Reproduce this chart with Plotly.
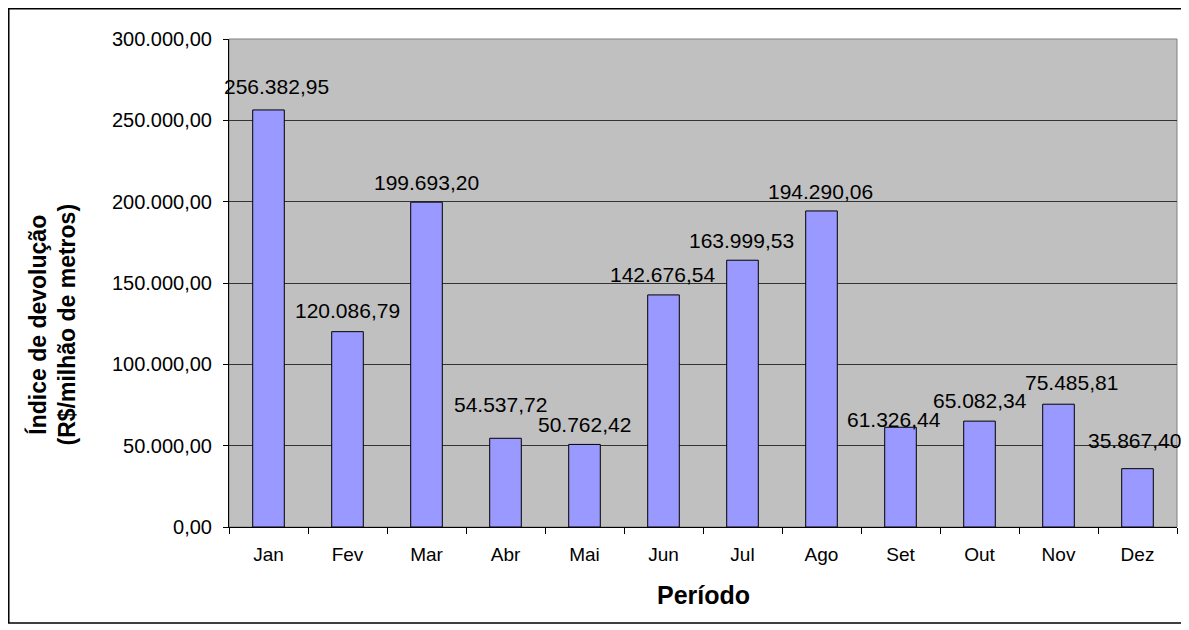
import plotly.graph_objects as go

# ---- data ----
months = ["Jan", "Fev", "Mar", "Abr", "Mai", "Jun", "Jul", "Ago", "Set", "Out", "Nov", "Dez"]
values = [256382.95, 120086.79, 199693.20, 54537.72, 50762.42, 142676.54,
          163999.53, 194290.06, 61326.44, 65082.34, 75485.81, 35867.40]
y_ticks = [0, 50000, 100000, 150000, 200000, 250000, 300000]

# label placement offsets (pixels) relative to each bar top, as placed in the original
label_dx = [8, 0, 0, -5, 0, -1, -1, -1, -7, 0, 13, -3]
label_dy = [23, 21, 20, 34, 20, 20, 20, 19, 8, 21, 22, 28]

FONT = "Arial, Liberation Sans, sans-serif"


def br_fmt(v):
    s = f"{v:,.2f}"
    return s.replace(",", "X").replace(".", ",").replace("X", ".")


fig = go.Figure()
fig.add_trace(go.Bar(
    x=months, y=values,
    marker=dict(color="#9999FF", line=dict(color="#000000", width=1)),
    width=0.4,
    hoverinfo="x+y",
))

annotations = []
for m, v, dx, dy in zip(months, values, label_dx, label_dy):
    annotations.append(dict(
        x=m, y=v, xref="x", yref="y", text=br_fmt(v), showarrow=False,
        xanchor="center", yanchor="middle", xshift=dx, yshift=dy,
        font=dict(family=FONT, size=21, color="#000000"),
    ))

annotations.append(dict(
    x=-0.1867, y=0.415, xref="paper", yref="paper",
    text="Índice de devolução<br>(R$/milhão de metros)", textangle=-90,
    showarrow=False, xanchor="center", yanchor="middle",
    font=dict(family=FONT, size=23, color="#000000", weight="bold"),
))
annotations.append(dict(
    x=0.5, y=-0.140, xref="paper", yref="paper", text="Período",
    showarrow=False, xanchor="center", yanchor="middle",
    font=dict(family=FONT, size=25, color="#000000", weight="bold"),
))

shapes = [
    # plot area frame (grey top/right)
    dict(type="rect", xref="paper", yref="paper", x0=0, x1=1, y0=0, y1=1,
         line=dict(color="#808080", width=1), layer="below"),
    # outer chart border
    dict(type="rect", xref="paper", yref="paper",
         x0=-0.2323, x1=1.0053, y0=-0.1967, y1=1.0620,
         line=dict(color="#000000", width=1.5), layer="above"),
]

# the page body adds an 8px margin, so the figure is sized/offset to compensate
fig.update_layout(
    width=1181, height=622,
    margin=dict(l=221, r=12, t=31, b=103, pad=0),
    paper_bgcolor="#FFFFFF", plot_bgcolor="#C0C0C0",
    separators=",.",
    showlegend=False,
    font=dict(family=FONT, size=20, color="#000000"),
    annotations=annotations, shapes=shapes,
    bargap=0.6,
)
fig.update_xaxes(
    type="category", range=[-0.5, len(months) - 0.5],
    showline=True, linecolor="#000000", linewidth=1,
    ticks="outside", tickson="boundaries", ticklen=6, tickcolor="#000000",
    showgrid=False, ticklabelstandoff=10,
    tickfont=dict(family=FONT, size=19, color="#000000"),
)
fig.update_yaxes(
    range=[0, 300000], tickvals=y_ticks, tickformat=",.2f",
    showline=True, linecolor="#000000", linewidth=1,
    ticks="outside", ticklen=5, tickcolor="#000000",
    showgrid=True, gridcolor="#333333", gridwidth=1, zeroline=False,
    ticklabelstandoff=7,
    tickfont=dict(family=FONT, size=20, color="#000000"),
)

fig.write_html("out.html")
